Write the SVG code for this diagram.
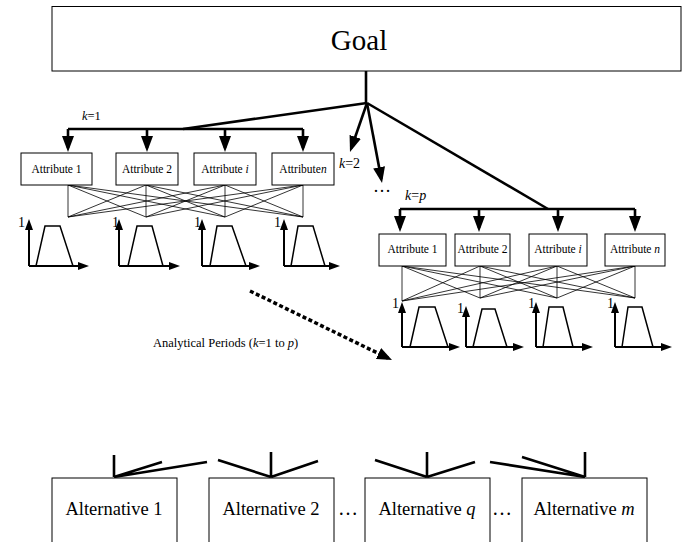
<svg xmlns="http://www.w3.org/2000/svg" width="684" height="542" viewBox="0 0 684 542">
<defs>
<style>
text{font-family:"Liberation Serif","Times New Roman",serif;fill:#000}
.box{fill:#fff;stroke:#000;stroke-width:1}
.thick{fill:none;stroke:#000;stroke-width:2.6}
.thin{fill:none;stroke:#000;stroke-width:0.8}
.axis{fill:none;stroke:#000;stroke-width:2}
.trap{fill:none;stroke:#000;stroke-width:1.5}
.arr{marker-end:url(#ah)}
.ax{marker-end:url(#sh)}
.attr{font-size:11.5px;text-anchor:middle}
.one{font-size:14px}
.alt{font-size:18.5px;text-anchor:middle}
.it{font-style:italic}
</style>
<marker id="ah" viewBox="0 0 16 12" refX="12" refY="6" markerWidth="16" markerHeight="12" markerUnits="userSpaceOnUse" orient="auto"><path d="M0,0 L16,6 L0,12 Z" fill="#000"/></marker>
<marker id="sh" viewBox="0 0 11 8" refX="8" refY="4" markerWidth="11" markerHeight="8" markerUnits="userSpaceOnUse" orient="auto"><path d="M0,0 L11,4 L0,8 Z" fill="#000"/></marker>
<marker id="dh" viewBox="0 0 15 12" refX="11" refY="6" markerWidth="15" markerHeight="12" markerUnits="userSpaceOnUse" orient="auto"><path d="M0,0 L15,6 L0,12 Z" fill="#000"/></marker>
</defs>
<rect width="684" height="542" fill="#fff"/>

<g id="goal">
<rect class="box" x="52" y="6.5" width="629" height="64.5" stroke-width="1.3"/>
<text x="359" y="50" font-size="29" text-anchor="middle">Goal</text>
</g>

<g id="connectors">
<line class="thick" x1="366" y1="71" x2="366" y2="103"/>
<line class="thick" x1="367" y1="103" x2="183" y2="129"/>
<line class="thick" x1="68" y1="129" x2="303" y2="129"/>
<line class="thick arr" x1="68" y1="129" x2="68" y2="148"/>
<line class="thick arr" x1="147" y1="129" x2="147" y2="148"/>
<line class="thick arr" x1="225" y1="129" x2="225" y2="148"/>
<line class="thick arr" x1="303" y1="129" x2="303" y2="148"/>
<line class="thick arr" x1="367" y1="103" x2="351.3" y2="148.2"/>
<line class="thick arr" x1="367" y1="103" x2="381.3" y2="179.1"/>
<line class="thick" x1="367" y1="103" x2="548" y2="209"/>
<line class="thick" x1="400" y1="209" x2="635" y2="209"/>
<line class="thick arr" x1="400" y1="209" x2="400" y2="228"/>
<line class="thick arr" x1="479" y1="209" x2="479" y2="228"/>
<line class="thick arr" x1="558" y1="209" x2="558" y2="228"/>
<line class="thick arr" x1="635" y1="209" x2="635" y2="228"/>
<!-- left bipartite links -->
<path class="thin" d="M68,185 L68,217 M68,185 L146,217 M68,185 L225,217 M68,185 L303,217
M146,185 L68,217 M146,185 L146,217 M146,185 L225,217 M146,185 L303,217
M225,185 L68,217 M225,185 L146,217 M225,185 L225,217 M225,185 L303,217
M303,185 L68,217 M303,185 L146,217 M303,185 L225,217 M303,185 L303,217"/>
<!-- right bipartite links -->
<path class="thin" d="M402,266 L402,301 M402,266 L480,298 M402,266 L557,298 M402,266 L635,298
M480,266 L402,301 M480,266 L480,298 M480,266 L557,298 M480,266 L635,298
M557,266 L402,301 M557,266 L480,298 M557,266 L557,298 M557,266 L635,298
M635,266 L402,301 M635,266 L480,298 M635,266 L557,298 M635,266 L635,298"/>
<!-- analytical periods dashed arrow -->
<line x1="250" y1="291" x2="388.4" y2="358.3" stroke="#000" stroke-width="3.5" stroke-dasharray="4 2.5" marker-end="url(#dh)"/>
<!-- alternative fans -->
<path class="thick" d="M114,455 L114,477 M162,462 L114,477 M207,462 L114,477"/>
<path class="thick" d="M218,460 L271,477 M271,452 L271,477 M318,461 L271,477"/>
<path class="thick" d="M375,460 L427,477 M427,452 L427,477 M475,462 L427,477"/>
<path class="thick" d="M490,462 L585,477 M522,457 L585,477 M585,452 L585,477"/>
</g>

<g id="labels">
<text x="82" y="120" font-size="12.5"><tspan class="it">k</tspan>=1</text>
<text x="339" y="168" font-size="14"><tspan class="it">k</tspan>=2</text>
<text x="373" y="192" font-size="18">…</text>
<text x="405" y="200" font-size="14"><tspan class="it">k</tspan>=<tspan class="it">p</tspan></text>
<text x="153" y="347" font-size="12.5">Analytical Periods (<tspan class="it">k</tspan>=1 to <tspan class="it">p</tspan>)</text>
<text x="338" y="515" font-size="20">…</text>
<text x="492" y="515" font-size="20">…</text>
</g>

<g id="attr-k1-1"><rect class="box" x="21" y="153" width="71" height="32"/><text class="attr" x="56.5" y="173">Attribute 1</text></g>
<g id="attr-k1-2"><rect class="box" x="116" y="153" width="62" height="32"/><text class="attr" x="147" y="173">Attribute 2</text></g>
<g id="attr-k1-i"><rect class="box" x="194" y="153" width="62" height="32"/><text class="attr" x="225" y="173">Attribute <tspan class="it">i</tspan></text></g>
<g id="attr-k1-n"><rect class="box" x="272" y="153" width="62" height="32"/><text class="attr" x="303" y="173">Attribute<tspan class="it">n</tspan></text></g>

<g id="attr-kp-1"><rect class="box" x="379" y="234" width="67" height="32"/><text class="attr" x="412.5" y="253">Attribute 1</text></g>
<g id="attr-kp-2"><rect class="box" x="455" y="234" width="55" height="32"/><text class="attr" x="482.5" y="253">Attribute 2</text></g>
<g id="attr-kp-i"><rect class="box" x="529" y="234" width="58" height="32"/><text class="attr" x="558" y="253">Attribute <tspan class="it">i</tspan></text></g>
<g id="attr-kp-n"><rect class="box" x="605" y="234" width="60" height="32"/><text class="attr" x="635" y="253">Attribute <tspan class="it">n</tspan></text></g>

<g id="mf-k1-1"><line class="axis ax" x1="29" y1="266" x2="29" y2="222"/><line class="axis ax" x1="29" y1="266" x2="86" y2="266"/><path class="trap" d="M36,266 L45,226 L60,226 L73,266"/><text class="one" x="18" y="227">1</text></g>
<g id="mf-k1-2"><line class="axis ax" x1="119" y1="266" x2="119" y2="222"/><line class="axis ax" x1="119" y1="266" x2="177" y2="266"/><path class="trap" d="M128,266 L137,226 L152,226 L163,266"/><text class="one" x="112" y="227">1</text></g>
<g id="mf-k1-3"><line class="axis ax" x1="202" y1="266" x2="202" y2="222"/><line class="axis ax" x1="202" y1="266" x2="257" y2="266"/><path class="trap" d="M210,266 L217,226 L232,226 L246,266"/><text class="one" x="194" y="227">1</text></g>
<g id="mf-k1-4"><line class="axis ax" x1="284" y1="266" x2="284" y2="222"/><line class="axis ax" x1="284" y1="266" x2="337" y2="266"/><path class="trap" d="M291,266 L298,226 L313,226 L325,266"/><text class="one" x="274" y="227">1</text></g>

<g id="mf-kp-1"><line class="axis ax" x1="402" y1="347" x2="402" y2="305"/><line class="axis ax" x1="402" y1="347" x2="457" y2="347"/><path class="trap" d="M410,347 L419,307 L435,307 L448,347"/><text class="one" x="392" y="308">1</text></g>
<g id="mf-kp-2"><line class="axis ax" x1="466" y1="347" x2="466" y2="309"/><line class="axis ax" x1="466" y1="347" x2="521" y2="347"/><path class="trap" d="M473,347 L482,309 L495,309 L507,347"/><text class="one" x="457" y="313">1</text></g>
<g id="mf-kp-3"><line class="axis ax" x1="536" y1="347" x2="536" y2="305"/><line class="axis ax" x1="536" y1="347" x2="590" y2="347"/><path class="trap" d="M543,347 L549,307 L563,307 L573,347"/><text class="one" x="528" y="308">1</text></g>
<g id="mf-kp-4"><line class="axis ax" x1="615" y1="347" x2="615" y2="305"/><line class="axis ax" x1="615" y1="347" x2="669" y2="347"/><path class="trap" d="M622,347 L628,307 L642,307 L653,347"/><text class="one" x="607" y="308">1</text></g>

<g id="alt-1"><rect class="box" x="52" y="478" width="125" height="80" stroke-width="1.2"/><text class="alt" x="114" y="515">Alternative 1</text></g>
<g id="alt-2"><rect class="box" x="209" y="478" width="125" height="80" stroke-width="1.2"/><text class="alt" x="271" y="515">Alternative 2</text></g>
<g id="alt-q"><rect class="box" x="365" y="478" width="125" height="80" stroke-width="1.2"/><text class="alt" x="427" y="515">Alternative <tspan class="it">q</tspan></text></g>
<g id="alt-m"><rect class="box" x="522" y="478" width="125" height="80" stroke-width="1.2"/><text class="alt" x="584" y="515">Alternative <tspan class="it">m</tspan></text></g>
</svg>
